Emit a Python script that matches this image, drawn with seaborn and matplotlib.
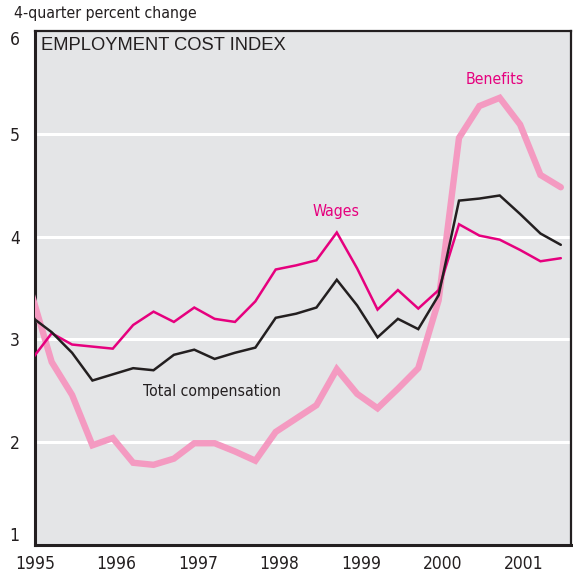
import matplotlib
matplotlib.use("Agg")
import matplotlib.pyplot as plt
import seaborn as sns
import pandas as pd
import numpy as np

# Quarterly observations, 1995 Q1 .. 2001 Q3
quarter_index = list(range(27))
benefits = [3.45, 2.78, 2.46, 1.97, 2.04, 1.80, 1.78, 1.84, 1.99, 1.99, 1.91, 1.82,
            2.10, 2.23, 2.36, 2.71, 2.47, 2.33, 2.52, 2.72, 3.38, 4.96, 5.27, 5.35,
            5.09, 4.60, 4.48]
wages = [2.80, 3.06, 2.95, 2.93, 2.91, 3.14, 3.27, 3.17, 3.31, 3.20, 3.17, 3.37,
         3.68, 3.72, 3.77, 4.04, 3.69, 3.29, 3.48, 3.30, 3.48, 4.12, 4.01, 3.97,
         3.87, 3.76, 3.79]
total_comp = [3.22, 3.07, 2.87, 2.60, 2.66, 2.72, 2.70, 2.85, 2.90, 2.81, 2.87, 2.92,
              3.21, 3.25, 3.31, 3.58, 3.33, 3.02, 3.20, 3.10, 3.43, 4.35, 4.37, 4.40,
              4.22, 4.03, 3.92]
year_ticks = [1995, 1996, 1997, 1998, 1999, 2000, 2001]
y_ticks = [1, 2, 3, 4, 5, 6]

# time position of each quarter (first point sits just left of the 1995 tick)
t = [1995 - 0.045 + q / 4 for q in quarter_index]
df = pd.DataFrame({"t": t, "Benefits": benefits, "Wages": wages,
                   "Total compensation": total_comp})

sns.set_style("white")
narrow = ["DejaVu Sans", "Liberation Sans"]
plt.rcParams["font.family"] = narrow
plt.rcParams["font.stretch"] = "condensed"

BG = "#e4e5e7"
DARK = "#231f20"
MAGENTA = "#e6007e"
PINK = "#f49ac1"

fig = plt.figure(figsize=(5.73, 5.77), dpi=100)
ax = fig.add_axes([35 / 573, 1 - 545 / 577, 536 / 573, 514 / 577])
ax.set_facecolor(BG)

sns.lineplot(data=df, x="t", y="Benefits", ax=ax, color=PINK, linewidth=4.6,
             solid_joinstyle="miter", zorder=3)
sns.lineplot(data=df, x="t", y="Wages", ax=ax, color=MAGENTA, linewidth=1.8,
             solid_joinstyle="miter", zorder=4)
sns.lineplot(data=df, x="t", y="Total compensation", ax=ax, color=DARK, linewidth=1.8,
             solid_joinstyle="miter", zorder=5)

ax.set_xlim(1995, 2001.58)
ax.set_ylim(1, 6)
for g in [2, 3, 4, 5]:
    ax.axhline(g, color="white", linewidth=2.2, zorder=1)

ax.set_xticks(year_ticks)
ax.set_xticklabels([str(y) for y in year_ticks])
ax.set_yticks(y_ticks)
ax.set_yticklabels([str(y) for y in y_ticks])
ax.tick_params(axis="both", direction="in", length=12, width=2, color=DARK,
               labelsize=12.5, labelcolor=DARK)
ax.tick_params(axis="x", pad=7)
ax.tick_params(axis="y", pad=11)
ylabs = ax.get_yticklabels()
ylabs[0].set_va("bottom")
ylabs[-1].set_va("top")
ax.set_xlabel("")
ax.set_ylabel("")
ax.grid(False)
for s in ax.spines.values():
    s.set_color(DARK)
    s.set_linewidth(1.6)
    s.set_visible(True)
ax.spines["left"].set_linewidth(2.2)
ax.spines["bottom"].set_linewidth(2.2)

ax.text(0.011, 0.988, "EMPLOYMENT COST INDEX", transform=ax.transAxes,
        ha="left", va="top", fontsize=13.2, color=DARK,
        family=["Liberation Sans", "DejaVu Sans"], fontstretch="normal")
ax.text(1996.33, 2.49, "Total compensation", ha="left", va="center",
        fontsize=11.3, color=DARK)
ax.text(1998.7, 4.24, "Wages", ha="center", va="center", fontsize=11.3, color=MAGENTA)
ax.text(2000.65, 5.53, "Benefits", ha="center", va="center", fontsize=11.3, color=MAGENTA)

fig.text(14 / 573, 1 - 6 / 577, "4-quarter percent change", ha="left", va="top",
         fontsize=11.3, color=DARK)

fig.savefig("out.png", dpi=100)
